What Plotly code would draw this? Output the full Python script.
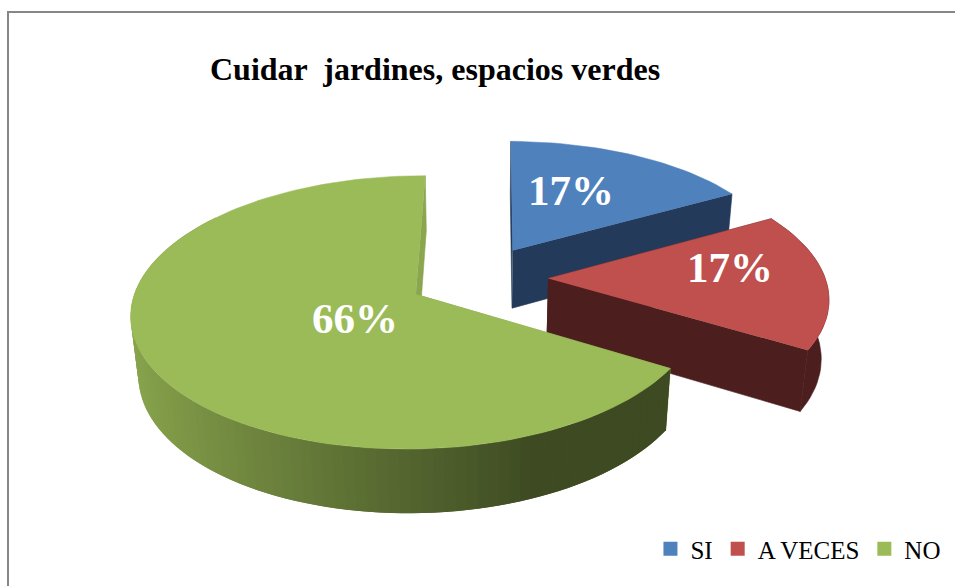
import math
import plotly.graph_objects as go

TITLE = "Cuidar  jardines, espacios verdes"
categories = ["SI", "A VECES", "NO"]
values = [16.7, 16.7, 66.4]
top_colors = ["#4f81bd", "#c0504d", "#9bbb59"]
side_colors = ["#243a5a", "#4c1f1e", None]
cut_colors = ["#243a5a", "#4c1f1e", "#8aa64e"]
label_xy = [(571, 190), (730, 267), (355, 318)]

# projection of the tilted pie
CX, CY, R, RK, P, Q, DEPTH, EXPLODE, START = 478, 278, 277, 130, 0.13, 0.022, 60, 0.253, 0.5


def proj(u, v, z=0.0):
    w = 1 - P * v + Q * z
    return CX + R * u / w, CY + (RK * v + DEPTH * z) / w


def lerp_color(t):
    a, b = (0x8a, 0xa6, 0x4e), (0x3d, 0x4a, 0x22)
    t = max(0, min(1, t))
    return "rgb(%d,%d,%d)" % tuple(a[i] + (b[i] - a[i]) * t for i in range(3))


fig = go.Figure()


def poly(pts, color, lw=0.6):
    fig.add_trace(go.Scatter(x=[p[0] for p in pts], y=[p[1] for p in pts], mode="lines", fill="toself",
                             fillcolor=color, line=dict(color=color, width=lw), showlegend=False,
                             hoverinfo="skip"))


total = sum(values)
angle = START
for i, val in enumerate(values):
    a0, a1 = angle, angle + 360 * val / total
    angle = a1
    mid = math.radians((a0 + a1) / 2)
    ou, ov = EXPLODE * math.sin(mid), -EXPLODE * math.cos(mid)
    n = max(8, int((a1 - a0) / 2))
    ts = [math.radians(a0 + (a1 - a0) * k / n) for k in range(n + 1)]
    rim = [(ou + math.sin(t), ov - math.cos(t)) for t in ts]
    # cut faces
    for r in (rim[0], rim[-1]):
        poly([proj(ou, ov), proj(*r), proj(*r, 1), proj(ou, ov, 1)], cut_colors[i])
    # rim wall: each quad overlaps the next one so no seams show
    vis = [k for k in range(n + 1) if rim[k][1] > -0.5]
    if side_colors[i]:
        if vis:
            poly([proj(*rim[k]) for k in vis] + [proj(*rim[k], 1) for k in reversed(vis)], side_colors[i])
    else:
        order = sorted((k for k in vis if k < n), key=lambda k: -ts[k])
        for k in order:
            p, q = rim[k], rim[max(k - 2, 0)]
            poly([proj(*p), proj(*q), proj(*q, 1), proj(*p, 1)],
                 lerp_color((math.sin(ts[k]) + 1) / 1.4), 0)
    poly([proj(ou, ov)] + [proj(*r) for r in rim], top_colors[i], 0.5)

for c, col in zip(categories, top_colors):
    fig.add_trace(go.Scatter(x=[None], y=[None], mode="markers", name=c,
                             marker=dict(symbol="square", size=14, color=col)))

for val, (x, y) in zip(values, label_xy):
    fig.add_annotation(x=x, y=y, text=f"{round(val)}%", showarrow=False,
                       font=dict(family="Liberation Serif", size=43, color="white", weight="bold"))

fig.add_annotation(x=434.5, y=69, text=TITLE, showarrow=False,
                   font=dict(family="Liberation Serif", size=32, color="black", weight="bold"))

fig.add_shape(type="rect", x0=8, y0=12, x1=1100, y1=800, line=dict(color="#868686", width=2), layer="below")

fig.update_layout(
    width=955, height=586, margin=dict(l=0, r=0, t=0, b=0),
    paper_bgcolor="white", plot_bgcolor="white",
    xaxis=dict(range=[0, 955], visible=False, fixedrange=True),
    yaxis=dict(range=[586, 0], visible=False, fixedrange=True),
    legend=dict(orientation="h", x=0.99, xanchor="right", y=0.063, yanchor="middle",
                font=dict(family="Liberation Serif", size=25, color="black"), bgcolor="rgba(0,0,0,0)",
                itemwidth=30),
)
fig.write_html("out.html", config={"displayModeBar": False},
               post_script="document.body.style.margin='0';document.documentElement.style.overflow='hidden';")
